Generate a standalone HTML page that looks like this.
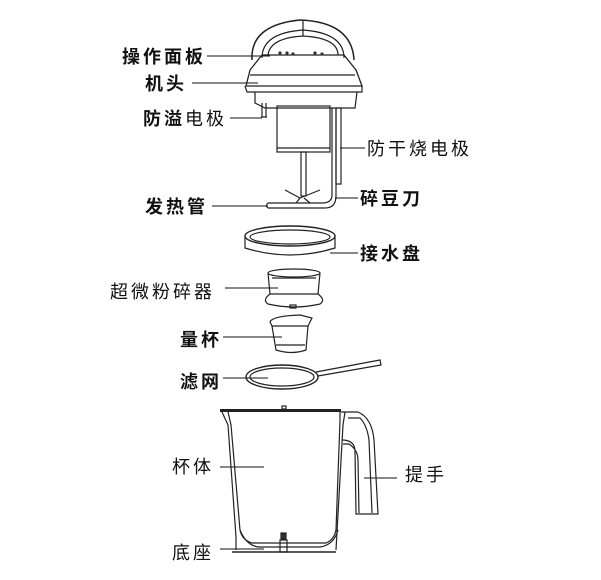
<!DOCTYPE html>
<html><head><meta charset="utf-8"><style>
body{margin:0;background:#fff}
svg{display:block}
text{font-family:"Liberation Sans","Noto Sans CJK SC",sans-serif;font-size:18px;fill:#111;letter-spacing:3px}
.b{font-weight:bold}
</style></head><body>
<svg width="601" height="580" viewBox="0 0 601 580" fill="none" stroke="#222" stroke-width="1.2">
<g stroke="none">
<text x="122" y="63" class="b">操作面板</text>
<text x="145" y="90" class="b">机头</text>
<text x="143" y="125"><tspan class="b">防溢</tspan>电极</text>
<text x="367" y="155">防干烧电极</text>
<text x="145" y="213" class="b">发热管</text>
<text x="360" y="205" class="b">碎豆刀</text>
<text x="360" y="260" class="b">接水盘</text>
<text x="110" y="298">超微粉碎器</text>
<text x="180" y="346" class="b">量杯</text>
<text x="180" y="388" class="b">滤网</text>
<text x="172" y="473">杯体</text>
<text x="405" y="481">提手</text>
<text x="172" y="559">底座</text>
</g>
<g stroke="#111" stroke-width="1">
<line x1="207" y1="56" x2="270" y2="56"/>
<line x1="192" y1="83" x2="258" y2="83"/>
<line x1="230" y1="118" x2="262" y2="118"/>
<line x1="340" y1="148" x2="365" y2="148"/>
<line x1="212" y1="206" x2="268" y2="206"/>
<line x1="335" y1="198" x2="358" y2="198"/>
<line x1="330" y1="253" x2="358" y2="253"/>
<line x1="225" y1="288" x2="278" y2="288"/>
<line x1="223" y1="337" x2="282" y2="337"/>
<line x1="223" y1="378" x2="268" y2="378"/>
<line x1="220" y1="467" x2="264" y2="467"/>
<line x1="364" y1="478" x2="397" y2="478"/>
<line x1="220" y1="549" x2="264" y2="549"/>
</g>
<path d="M252 60 Q250 25 300 20 Q352 22 354 60" stroke-width="1.5"/>
<path d="M262 58 Q262 33 303 30 Q344 33 344 58"/>
<path d="M268 55 Q270 38 303 36 Q338 38 338 55"/>
<line x1="303" y1="20" x2="303" y2="36"/>
<path d="M262 55 L250 70 L246 86 L362 86 L356 70 L344 55 Z" stroke-width="1.3"/>
<line x1="250" y1="75" x2="355" y2="75"/>
<path d="M245 86 L247 92 L362 92 L362 86"/>
<path d="M255 92 L255 103 L265 108 L355 108 L357 92"/>
<g fill="#333" stroke="none"><circle cx="280" cy="53" r="1.6"/><circle cx="287" cy="53" r="1.6"/><circle cx="293" cy="54" r="1.6"/><circle cx="315" cy="53" r="1.6"/><circle cx="322" cy="54" r="1.6"/></g>
<path d="M262 103 L262 117 M266 103 L266 117 M261 117 L267 117"/>
<rect x="277" y="106" width="53" height="46"/>
<line x1="277" y1="148" x2="330" y2="148"/>
<rect x="301" y="152" width="5" height="44"/>
<path d="M285 190 L300 198 L320 190 M300 198 L296 203 M304 198 L310 203"/>
<path d="M268 203 L322 203 Q332 203 332 195 L332 108 M268 208 L325 208 Q336 208 336 196 L336 108 M268 203 Q265 205.5 268 208"/>
<rect x="336" y="108" width="5" height="76"/>
<ellipse cx="290" cy="236" rx="45" ry="10" stroke-width="1.4"/>
<ellipse cx="290" cy="237" rx="40" ry="7"/>
<path d="M245 236 L245 248 Q290 262 335 248 L335 236"/>
<ellipse cx="294" cy="273" rx="26" ry="4"/>
<path d="M268 273 L270 294 L318 294 L320 273"/>
<path d="M270 294 Q262 300 268 304 Q294 310 320 304 Q326 300 318 294"/>
<line x1="272" y1="278" x2="316" y2="278"/>
<rect x="290" y="305" width="6" height="3"/>
<path d="M270 322 Q272 316 300 315 L312 318 L308 326 L306 350 Q292 355 276 350 L272 326 Z"/>
<line x1="272" y1="326" x2="308" y2="326"/>
<line x1="276" y1="345" x2="305" y2="345"/>
<ellipse cx="282" cy="377" rx="36" ry="12" stroke-width="1.4"/>
<ellipse cx="282" cy="377" rx="32" ry="9"/>
<path d="M316 372 L380 360 L381 365 L318 376"/>
<rect x="220" y="409" width="121" height="3" fill="#222" stroke="none"/>
<rect x="282" y="406" width="4" height="3"/>
<path d="M222 412 L228 425 L236 537 M228 412 L231 425 L240 530 Q242 540 252 543 L326 543 Q334 540 336 530 L340 420 L340 412"/>
<path d="M236 537 L236 550 M240 530 Q246 545 258 547 L320 547 Q334 545 338 530"/>
<path d="M345 412 L343 425 L336 550"/>
<line x1="232" y1="552" x2="336" y2="552" stroke-width="1.4"/>
<rect x="280" y="540" width="7" height="12"/>
<rect x="281" y="533" width="5" height="6" fill="#333"/>
<path d="M341 412 L358 412 Q372 418 374 440 L378 514 L356 514 L355 450 Q354 440 342 440"/>
<path d="M348 418 L360 418 Q367 425 369 440 L372 513 M343 444 L349 444 Q358 450 358 460 L359 513"/>
</svg>
</body></html>
